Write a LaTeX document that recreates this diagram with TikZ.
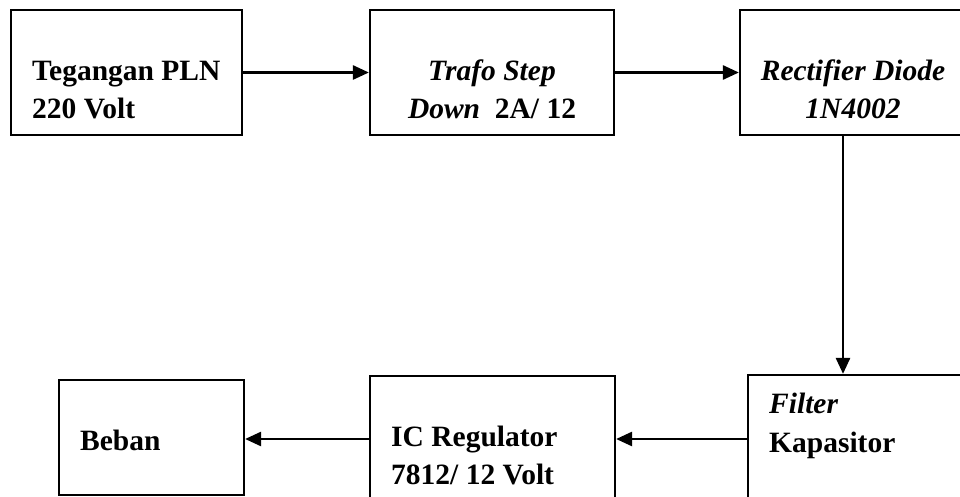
\documentclass[tikz,border=0pt]{standalone}
\usepackage{fontspec}
\setmainfont{Liberation Serif}
\usetikzlibrary{arrows.meta}
\begin{document}
\begin{tikzpicture}[x=1pt,y=-1pt,
  blk/.style={draw, line width=2.2pt, inner sep=0pt},
  lbl/.style={inner sep=0pt, font=\fontsize{29.5}{38}\selectfont\bfseries},
  conn/.style={line width=2.6pt, -{Triangle[length=16pt,width=14pt]}}]
\useasboundingbox (0,0) rectangle (960,497);
\clip (0,0) rectangle (960,497);
% boxes
\node[blk, minimum width=231pt, minimum height=125pt] (b1) at (126.5,72.5) {};
\node[blk, minimum width=244pt, minimum height=125pt] (b2) at (492,72.5) {};
\node[blk, minimum width=226pt, minimum height=125pt] (b3) at (853,72.5) {};
\node[blk, minimum width=222pt, minimum height=135pt] (b4) at (859,442.5) {};
\node[blk, minimum width=245pt, minimum height=134pt] (b5) at (492.5,443) {};
\node[blk, minimum width=185pt, minimum height=115pt] (b6) at (151.5,437.5) {};
% texts
\node[lbl, anchor=base west] (t1a) at (32,80.5) {Tegangan PLN};
\node[lbl, anchor=base west] (t1b) at (32,118.5) {220 Volt};
\node[lbl, anchor=base] (t2a) at (492,80.5) {\itshape Trafo Step};
\node[lbl, anchor=base] (t2b) at (492,118.5) {\itshape Down\upshape\ \ 2A/ 12};
\node[lbl, anchor=base] (t3a) at (853,80.5) {\itshape Rectifier Diode};
\node[lbl, anchor=base] (t3b) at (853,118.5) {\itshape 1N4002};
\node[lbl, anchor=base west] (t4a) at (769,413) {\itshape Filter};
\node[lbl, anchor=base west] (t4b) at (769,452) {Kapasitor};
\node[lbl, anchor=base west] (t5a) at (391,446) {IC Regulator};
\node[lbl, anchor=base west] (t5b) at (391,484) {7812/ 12 Volt};
\node[lbl, anchor=base west] (t6) at (80,450) {Beban};
% connectors
\coordinate (vx) at (843,0);
\coordinate (hy) at (0,439);
\draw[conn] (b1.east) -- (b2.west);
\draw[conn] (b2.east) -- (b3.west);
\draw[conn] (b3.south -| vx) -- (b4.north -| vx);
\draw[conn] (b4.west |- hy) -- (b5.east |- hy);
\draw[conn] (b5.west |- hy) -- (b6.east |- hy);
\end{tikzpicture}
\end{document}
